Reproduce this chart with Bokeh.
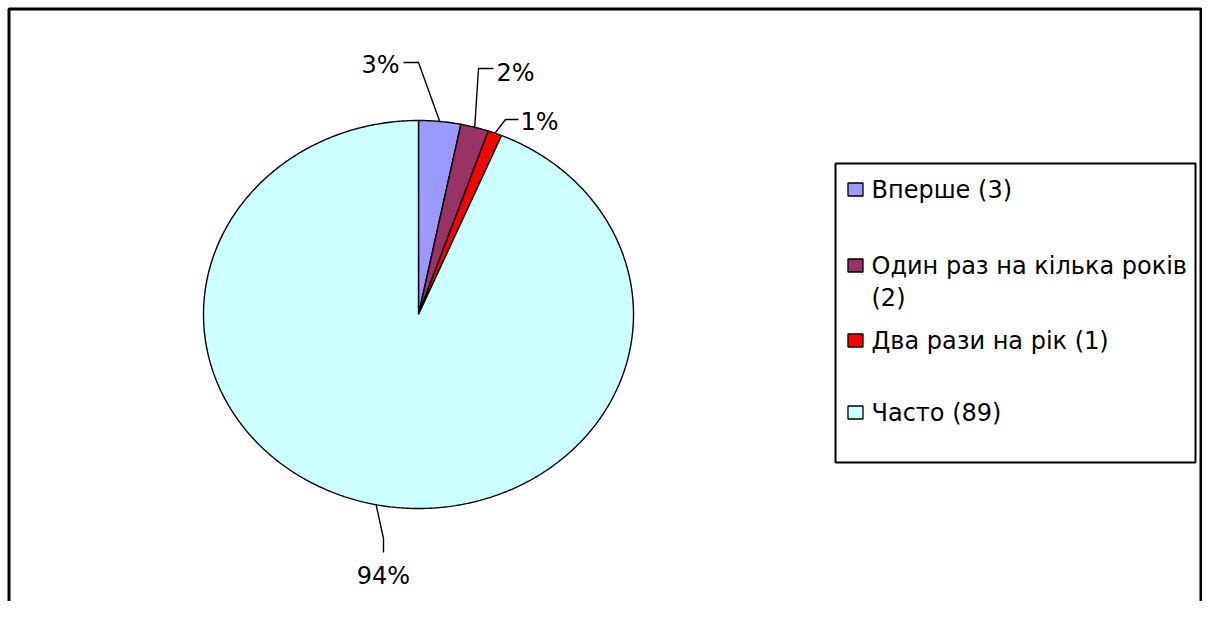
import numpy as np
from bokeh.plotting import figure
from bokeh.models import Range1d
from bokeh.core.properties import value
from bokeh.embed import file_html
from bokeh.resources import INLINE

# ---- data ----
categories = ["Вперше", "Один раз на кілька років", "Два рази на рік", "Часто"]
counts = [3, 2, 1, 89]
colors = ["#9999FF", "#993366", "#FF0000", "#CCFFFF"]

# ---- layout constants (page pixels) ----
W, H = 1202, 601
CX, CY, RX, RY = 418, 314, 215, 194
FONT = value("DejaVu Sans")
FS = "24px"

p = figure(width=W, height=H, x_range=Range1d(0, W), y_range=Range1d(H, 0),
           output_backend="svg", toolbar_location=None, min_border=0,
           x_axis_type=None, y_axis_type=None)
p.grid.visible = False
p.outline_line_color = None
p.background_fill_color = "white"
p.border_fill_color = "white"

# outer frame (left, top, right)
p.line([8.5, 8.5, 1200.5, 1200.5], [620, 8.5, 8.5, 620], line_color="black", line_width=3)

# ---- pie (elliptical, clockwise from 12 o'clock) ----
total = sum(counts)
cum = np.concatenate([[0], np.cumsum(counts)]) / total * 2 * np.pi
xs, ys = [], []
for a0, a1 in zip(cum[:-1], cum[1:]):
    t = np.linspace(a0, a1, max(6, int((a1 - a0) * 120)))
    xs.append([CX] + list(CX + RX * np.sin(t)) + [CX])
    ys.append([CY] + list(CY - RY * np.cos(t)) + [CY])
p.patches(xs, ys, fill_color=colors, line_color="black", line_width=1.4)

# ---- leader lines and percentage labels ----
mid = (cum[:-1] + cum[1:]) / 2
ex = CX + RX * np.sin(mid)
ey = CY - RY * np.cos(mid)
elbows = [[(418, 62), (403, 62)], [(478, 68), (493, 68)],
          [(505, 119), (518, 119)], [(383, 538), (383, 552)]]
lx, ly = [], []
for i, el in enumerate(elbows):
    lx.append([ex[i]] + [e[0] for e in el])
    ly.append([ey[i]] + [e[1] for e in el])
p.multi_line(lx, ly, line_color="black", line_width=1.4)

pct = [f"{round(c / total * 100)}%" for c in counts]
lab_pos = [(399, 64, "right"), (496, 72, "left"), (520, 121, "left"), (383, 575, "center")]
p.text(x=[q[0] for q in lab_pos], y=[q[1] for q in lab_pos], text=pct,
       text_align=[q[2] for q in lab_pos], text_baseline="middle",
       text_font=FONT, text_font_size=FS, text_color="black")

# ---- legend (drawn manually) ----
p.quad(left=[835], right=[1195], top=[163], bottom=[462],
       fill_color="white", line_color="black", line_width=2)
row_y = [189, 265, 340, 412]
p.rect(x=[855] * 4, y=row_y, width=15, height=13, width_units="screen",
       height_units="screen", fill_color=colors, line_color="black", line_width=1.3)
leg_text, leg_x, leg_y = [], [], []
for name, c, y in zip(categories, counts, row_y):
    full = f"{name} ({c})"
    if len(full) > 24:
        leg_text += [name, f"({c})"]
        leg_y += [y, y + 32]
        leg_x += [871, 871]
    else:
        leg_text.append(full)
        leg_y.append(y)
        leg_x.append(871)
p.text(x=leg_x, y=leg_y, text=leg_text, text_align="left", text_baseline="middle",
       text_font=FONT, text_font_size=FS, text_color="black")

open("out.html", "w").write(file_html(p, INLINE))
